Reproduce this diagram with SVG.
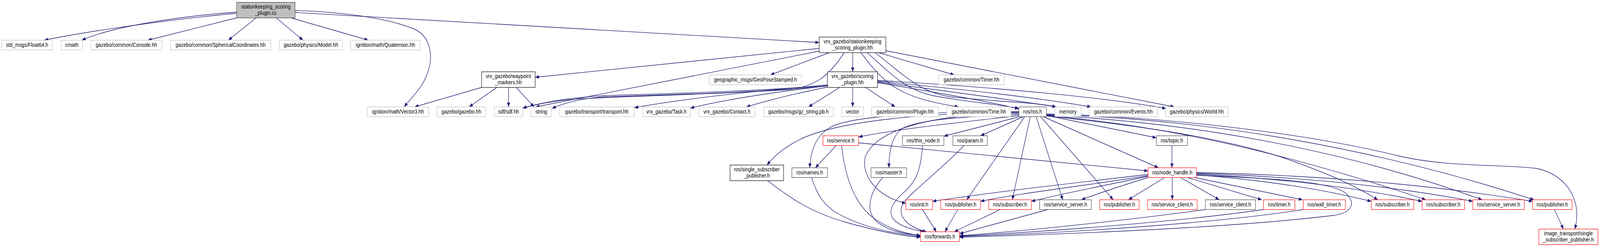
<svg xmlns="http://www.w3.org/2000/svg" width="4631" height="633" viewBox="0 0 4631 633" preserveAspectRatio="none">
<defs>
<style>
svg{width:100vw;height:100vh}
rect{fill:#fff;stroke-width:1.2}
.g rect{stroke:#bfbfbf}
.b rect{stroke:#000}
.d rect{stroke:#404040}
.r rect{stroke:#ff0000}
.m rect{fill:#bfbfbf;stroke:#404040}
text{font-family:"Liberation Sans",Arial,sans-serif;font-size:14px;fill:#000;text-anchor:middle}
#edges path{fill:none;stroke:#191970;stroke-width:1.35;marker-end:url(#a)}
</style>
<marker id="a" markerWidth="11" markerHeight="9" refX="11" refY="4.5" orient="auto" markerUnits="userSpaceOnUse">
<path d="M0,0 L11,4.5 L0,9 z" fill="#191970"/>
</marker>
</defs>
<rect x="0" y="0" width="4631" height="633" style="fill:#fff;stroke:none"/>
<g id="edges">
<path d="M685,34 C560,44 300,72 128,103"/>
<path d="M685,31 C570,38 340,62 237,103"/>
<path d="M684,46 L428,103"/>
<path d="M741,46 L661,103"/>
<path d="M800,46 L877,103"/>
<path d="M843,46 L1066,103"/>
<path d="M854,27 C980,30 1120,45 1200,75 C1250,95 1252,150 1240,180 C1225,225 1195,245 1170,274"/>
<path d="M854,32 L2371,109"/>
<path d="M2371,124 L1549,198"/>
<path d="M2443,135 C2400,195 2360,222 2280,230 C2000,245 1700,248 1620,258 C1570,264 1540,270 1513,277"/>
<path d="M2371,131 L1550,274"/>
<path d="M2400,135 L2230,192"/>
<path d="M2468,135 L2468,184"/>
<path d="M2543,135 L2762,192"/>
<path d="M2564,130 L3399,274"/>
<path d="M2492,135 C2560,215 2600,250 2775,274"/>
<path d="M2510,135 C2580,190 2620,230 2700,245 C2800,262 2900,268 2949,278"/>
<path d="M2533,135 C2620,195 2660,235 2750,248 C2900,262 3000,262 3057,274"/>
<path d="M2395,218 C2200,232 2000,250 1836,276"/>
<path d="M2395,220 C2250,235 2100,255 1998,277"/>
<path d="M2396,223 C2300,240 2220,258 2160,274"/>
<path d="M2431,224 L2340,274"/>
<path d="M2468,224 L2468,274"/>
<path d="M2505,224 L2591,274"/>
<path d="M2395,218 C2200,235 1900,240 1750,245 C1640,250 1560,265 1513,277"/>
<path d="M2395,220 C2200,238 1900,243 1750,248 C1680,252 1630,265 1598,278"/>
<path d="M2540,212 C2700,235 2850,258 2949,279"/>
<path d="M2540,210 C2750,235 2950,258 3057,274"/>
<path d="M2540,208 C2800,230 3000,250 3158,274"/>
<path d="M2540,206 C2900,225 3200,250 3375,278"/>
<path d="M1394,224 L1200,274"/>
<path d="M1438,224 L1358,274"/>
<path d="M1472,224 L1472,274"/>
<path d="M1494,224 L1546,274"/>
<path d="M2949,296 C2800,312 2600,330 2485,351"/>
<path d="M2952,299 L2732,349"/>
<path d="M2962,299 L2838,348"/>
<path d="M2949,293 C2750,300 2650,310 2610,330 C2580,350 2573,390 2573,430"/>
<path d="M2949,290 C2700,292 2540,330 2505,400 C2490,450 2540,505 2622,521"/>
<path d="M2949,288 C2600,290 2400,320 2314,358 C2270,378 2240,400 2220,423"/>
<path d="M2949,286 C2650,286 2450,300 2400,328 C2360,350 2345,390 2344,430"/>
<path d="M2966,299 L2798,512"/>
<path d="M2982,299 L2930,512"/>
<path d="M2999,299 L3076,512"/>
<path d="M3012,299 L3222,512"/>
<path d="M3020,299 L3353,430"/>
<path d="M3029,296 L3347,353"/>
<path d="M3029,297 C3250,318 3500,345 3700,400 C3850,445 3930,480 3988,512"/>
<path d="M3029,296 C3350,320 3700,385 4127,512"/>
<path d="M3029,295 C3400,312 3850,370 4290,512"/>
<path d="M3029,294 C3450,302 3950,370 4440,512"/>
<path d="M3029,292 C3400,300 3800,345 4050,400 C4200,430 4350,420 4450,432 C4540,450 4580,520 4558,587"/>
<path d="M2420,373 L2360,430"/>
<path d="M2436,373 C2445,450 2470,520 2530,560 C2580,590 2620,598 2664,604"/>
<path d="M2485,366 L3323,438"/>
<path d="M2349,455 C2365,500 2385,525 2420,545 C2500,585 2600,600 2664,606"/>
<path d="M2222,463 C2290,510 2350,545 2450,570 C2550,595 2620,605 2664,608"/>
<path d="M2555,455 C2520,490 2500,540 2540,570 C2580,595 2620,600 2664,603"/>
<path d="M2670,373 C2665,440 2650,465 2620,490 C2560,535 2555,575 2675,594"/>
<path d="M2790,373 C2730,430 2640,490 2615,520 C2595,550 2620,580 2682,594"/>
<path d="M2670,537 L2710,594"/>
<path d="M2772,537 L2735,594"/>
<path d="M2895,537 L2762,594"/>
<path d="M3033,537 L2777,599"/>
<path d="M3323,447 C3100,470 2850,495 2699,516"/>
<path d="M3323,450 C3150,475 2950,495 2838,516"/>
<path d="M3323,452 C3200,475 3080,495 2985,516"/>
<path d="M3323,455 C3250,475 3180,495 3130,512"/>
<path d="M3371,455 L3266,512"/>
<path d="M3393,455 L3393,512"/>
<path d="M3417,455 L3529,512"/>
<path d="M3437,455 L3652,512"/>
<path d="M3458,455 L3770,512"/>
<path d="M3463,448 C3700,465 3850,490 3969,516"/>
<path d="M3463,446 C3750,460 3950,485 4116,516"/>
<path d="M3463,444 C3800,455 4050,480 4263,516"/>
<path d="M3463,442 C3850,450 4150,475 4436,516"/>
<path d="M3463,449 C3700,458 3850,465 3895,495 C3925,520 3915,545 3860,552 C3600,580 3200,597 2777,608"/>
<path d="M3489,537 C3300,560 3000,590 2777,604"/>
<path d="M3657,537 C3400,570 3000,595 2777,605"/>
<path d="M3772,537 C3500,575 3050,598 2777,606"/>
<path d="M3392,373 L3392,430"/>
<path d="M4499,537 L4525,587"/>
</g>
<g id="n0" class="m"><rect x="685" y="6" width="169" height="40"/><text x="769.5" y="22">stationkeeping_scoring</text><text x="769.5" y="38">_plugin.cc</text></g>
<g id="n1" class="g"><rect x="5" y="103" width="147" height="25"/><text x="78.5" y="120">std_msgs/Float64.h</text></g>
<g id="n2" class="g"><rect x="177" y="103" width="62" height="25"/><text x="208" y="120">cmath</text></g>
<g id="n3" class="g"><rect x="263" y="103" width="206" height="25"/><text x="366" y="120">gazebo/common/Console.hh</text></g>
<g id="n4" class="g"><rect x="493" y="103" width="291" height="25"/><text x="638.5" y="120">gazebo/common/SphericalCoordinates.hh</text></g>
<g id="n5" class="g"><rect x="809" y="103" width="182" height="25"/><text x="900" y="120">gazebo/physics/Model.hh</text></g>
<g id="n6" class="g"><rect x="1015" y="103" width="201" height="25"/><text x="1115.5" y="120">ignition/math/Quaternion.hh</text></g>
<g id="n7" class="g"><rect x="1063" y="274" width="178" height="25"/><text x="1152" y="291">ignition/math/Vector3.hh</text></g>
<g id="n8" class="b"><rect x="2371" y="95" width="193" height="40"/><text x="2467.5" y="111">vrx_gazebo/stationkeeping</text><text x="2467.5" y="127">_scoring_plugin.hh</text></g>
<g id="n9" class="b"><rect x="1394" y="184" width="155" height="40"/><text x="1471.5" y="200">vrx_gazebo/waypoint</text><text x="1471.5" y="216">_markers.hh</text></g>
<g id="n10" class="g"><rect x="1265" y="274" width="141" height="25"/><text x="1335.5" y="291">gazebo/gazebo.hh</text></g>
<g id="n11" class="g"><rect x="1431" y="274" width="82" height="25"/><text x="1472" y="291">sdf/sdf.hh</text></g>
<g id="n12" class="g"><rect x="1537" y="274" width="59" height="25"/><text x="1566.5" y="291">string</text></g>
<g id="n13" class="g"><rect x="2053" y="192" width="267" height="25"/><text x="2186.5" y="209">geographic_msgs/GeoPoseStamped.h</text></g>
<g id="n14" class="b"><rect x="2395" y="184" width="145" height="40"/><text x="2467.5" y="200">vrx_gazebo/scoring</text><text x="2467.5" y="216">_plugin.hh</text></g>
<g id="n15" class="g"><rect x="2717" y="192" width="190" height="25"/><text x="2812" y="209">gazebo/common/Timer.hh</text></g>
<g id="n16" class="g"><rect x="1620" y="274" width="215" height="25"/><text x="1727.5" y="291">gazebo/transport/transport.hh</text></g>
<g id="n17" class="g"><rect x="1860" y="274" width="138" height="25"/><text x="1929" y="291">vrx_gazebo/Task.h</text></g>
<g id="n18" class="g"><rect x="2023" y="274" width="162" height="25"/><text x="2104" y="291">vrx_gazebo/Contact.h</text></g>
<g id="n19" class="g"><rect x="2210" y="274" width="202" height="25"/><text x="2311" y="291">gazebo/msgs/gz_string.pb.h</text></g>
<g id="n20" class="g"><rect x="2436" y="274" width="63" height="25"/><text x="2467.5" y="291">vector</text></g>
<g id="n21" class="g"><rect x="2523" y="274" width="193" height="25"/><text x="2619.5" y="291">gazebo/common/Plugin.hh</text></g>
<g id="n22" class="g"><rect x="2740" y="274" width="186" height="25"/><text x="2833" y="291">gazebo/common/Time.hh</text></g>
<g id="n23" class="d"><rect x="2949" y="274" width="80" height="25"/><text x="2989" y="291">ros/ros.h</text></g>
<g id="n24" class="g"><rect x="3053" y="274" width="76" height="25"/><text x="3091" y="291">memory</text></g>
<g id="n25" class="g"><rect x="3153" y="274" width="197" height="25"/><text x="3251.5" y="291">gazebo/common/Events.hh</text></g>
<g id="n26" class="g"><rect x="3374" y="274" width="180" height="25"/><text x="3464" y="291">gazebo/physics/World.hh</text></g>
<g id="n27" class="r"><rect x="2382" y="348" width="103" height="25"/><text x="2433.5" y="365">ros/service.h</text></g>
<g id="n28" class="d"><rect x="2612" y="348" width="120" height="25"/><text x="2672" y="365">ros/this_node.h</text></g>
<g id="n29" class="d"><rect x="2758" y="348" width="100" height="25"/><text x="2808" y="365">ros/param.h</text></g>
<g id="n30" class="d"><rect x="3347" y="348" width="90" height="25"/><text x="3392" y="365">ros/topic.h</text></g>
<g id="n31" class="b"><rect x="2113" y="423" width="155" height="40"/><text x="2190.5" y="439">ros/single_subscriber</text><text x="2190.5" y="455">_publisher.h</text></g>
<g id="n32" class="d"><rect x="2292" y="430" width="103" height="25"/><text x="2343.5" y="447">ros/names.h</text></g>
<g id="n33" class="d"><rect x="2521" y="430" width="103" height="25"/><text x="2572.5" y="447">ros/master.h</text></g>
<g id="n34" class="r"><rect x="3323" y="430" width="140" height="25"/><text x="3393" y="447">ros/node_handle.h</text></g>
<g id="n35" class="r"><rect x="2622" y="512" width="77" height="25"/><text x="2660.5" y="529">ros/init.h</text></g>
<g id="n36" class="r"><rect x="2723" y="512" width="115" height="25"/><text x="2780.5" y="529">ros/publisher.h</text></g>
<g id="n37" class="r"><rect x="2862" y="512" width="123" height="25"/><text x="2923.5" y="529">ros/subscriber.h</text></g>
<g id="n38" class="d"><rect x="3009" y="512" width="150" height="25"/><text x="3084" y="529">ros/service_server.h</text></g>
<g id="n39" class="r"><rect x="3183" y="512" width="114" height="25"/><text x="3240" y="529">ros/publisher.h</text></g>
<g id="n40" class="r"><rect x="3321" y="512" width="144" height="25"/><text x="3393" y="529">ros/service_client.h</text></g>
<g id="n41" class="d"><rect x="3489" y="512" width="145" height="25"/><text x="3561.5" y="529">ros/service_client.h</text></g>
<g id="n42" class="r"><rect x="3657" y="512" width="91" height="25"/><text x="3702.5" y="529">ros/timer.h</text></g>
<g id="n43" class="r"><rect x="3772" y="512" width="122" height="25"/><text x="3833" y="529">ros/wall_timer.h</text></g>
<g id="n44" class="r"><rect x="3969" y="512" width="123" height="25"/><text x="4030.5" y="529">ros/subscriber.h</text></g>
<g id="n45" class="r"><rect x="4116" y="512" width="123" height="25"/><text x="4177.5" y="529">ros/subscriber.h</text></g>
<g id="n46" class="r"><rect x="4263" y="512" width="149" height="25"/><text x="4337.5" y="529">ros/service_server.h</text></g>
<g id="n47" class="r"><rect x="4436" y="512" width="114" height="25"/><text x="4493" y="529">ros/publisher.h</text></g>
<g id="n48" class="r"><rect x="2664" y="594" width="113" height="25"/><text x="2720.5" y="611">ros/forwards.h</text></g>
<g id="n49" class="r"><rect x="4454" y="587" width="171" height="40"/><text x="4539.5" y="603">image_transport/single</text><text x="4539.5" y="619">_subscriber_publisher.h</text></g>
</svg>
